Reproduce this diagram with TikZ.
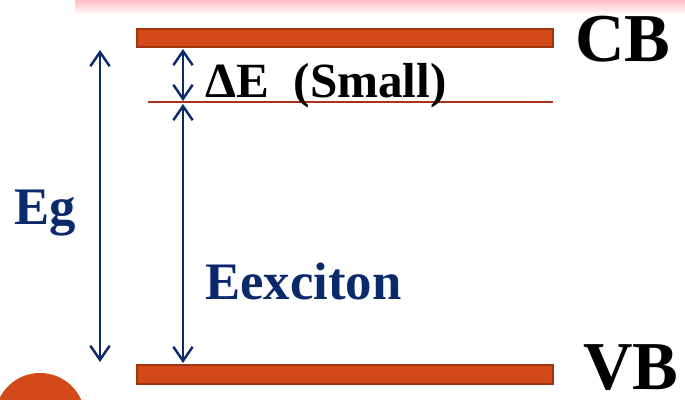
\documentclass[tikz,border=0pt]{standalone}
\usepackage{fontspec}
\setmainfont{Liberation Serif}
\usepackage{tikz}
\usetikzlibrary{positioning,calc,arrows.meta}
\definecolor{bandfill}{HTML}{D24A19}
\definecolor{banddraw}{HTML}{9E3512}
\definecolor{levelred}{HTML}{A8321C}
\definecolor{navy}{HTML}{0B2A6B}
\definecolor{topbar}{HTML}{FFB3BC}

\begin{document}
\begin{tikzpicture}[
  band/.style={draw=banddraw, line width=0.8pt, fill=bandfill, minimum width=8.32cm, inner sep=0pt},
  dim/.style={draw=navy, line width=1.4pt, {Straight Barb[length=8pt,width=11pt]}-{Straight Barb[length=8pt,width=11pt]}},
  bandlabel/.style={font=\fontsize{39}{39}\selectfont\bfseries, inner sep=0pt, anchor=base west},
  navylabel/.style={text=navy, font=\fontsize{30}{30}\selectfont\bfseries, inner sep=0pt, anchor=base west}]
  \clip (0, 0) rectangle (13.7, 8);

  % Background pieces
  \shade[top color=topbar, bottom color=white] (1.5, 8.05) rectangle (13.7, 7.7);
  \fill[bandfill] (0.8, -0.36) circle (0.9);

  % Bands
  \node[band, minimum height=0.36cm] (cb) at (6.9, 7.24) {};
  \node[band, minimum height=0.38cm] (vb) at (6.9, 0.51) {};
  \node[bandlabel] (cblabel) at (11.5, 6.76) {CB};
  \node[bandlabel] (vblabel) at (11.66, 0.2) {VB};

  % Exciton level
  \coordinate (lvlL) at (2.96, 5.96);
  \coordinate (lvlR) at (11.06, 5.96);
  \draw[levelred, line width=0.9pt] (lvlL) -- (lvlR);

  % Energy arrows
  \coordinate (egtop) at (2.0, 7.0);
  \coordinate (egbot) at (2.0, 0.76);
  \draw[dim] (egtop) -- (egbot);
  \coordinate (detop) at (3.66, 7.02);
  \coordinate (debot) at (3.66, 5.98);
  \draw[dim] (detop) -- (debot);
  \coordinate (extop) at (3.66, 5.92);
  \coordinate (exbot) at (3.66, 0.74);
  \draw[dim] (extop) -- (exbot);

  % Labels
  \node[inner sep=0pt, anchor=base west, font=\fontsize{28}{28}\selectfont\bfseries] (delabel) at (4.1, 6.04) {ΔE\ \ (Small)};
  \node[navylabel] (eglabel) at (0.28, 3.5) {Eg};
  \node[navylabel] (exlabel) at (4.1, 2.0) {Eexciton};
\end{tikzpicture}
\end{document}
